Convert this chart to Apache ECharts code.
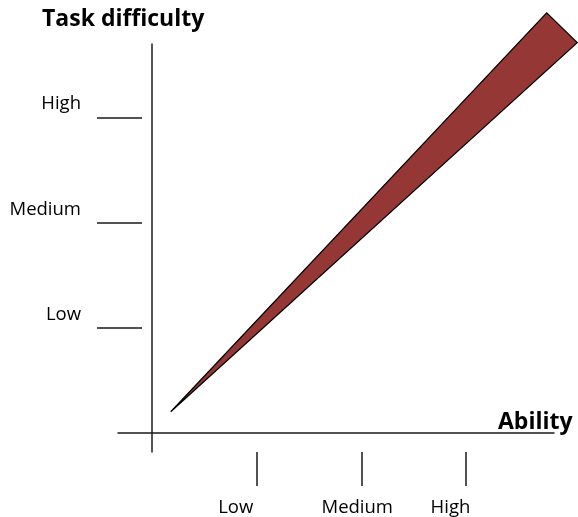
<!DOCTYPE html>
<html>
<head>
<meta charset="utf-8">
<script src="https://cdn.jsdelivr.net/npm/echarts@6/dist/echarts.min.js"></script>
<style>html,body{margin:0;padding:0;background:#fff}#c{width:578px;height:517px}</style>
</head>
<body>
<div id="c"></div>
<script>
// ---- data ----
const xTitle = 'Ability';
const yTitle = 'Task difficulty';
const abilityTicks = [1, 2, 3];
const abilityLabels = ['Low', 'Medium', 'High'];
const abilityLabelPos = [0.80, 1.96, 2.85];
const difficultyTicks = [1, 2, 3];
const difficultyLabels = ['Low', 'Medium', 'High'];
const difficultyLabelPos = [1.12, 2.12, 3.13];
// wedge vertices (ability, difficulty)
const wedgeAbility = [0.179, 3.769, 4.061];
const wedgeDifficulty = [0.198, 4.000, 3.715];

const xRange = [-0.3247, 3.8388];
const yRange = [-0.1854, 3.7025];

function labelFor(posArr, names) {
  return function (v) {
    let best = 0, d = Infinity;
    posArr.forEach((p, i) => { const dd = Math.abs(p - v); if (dd < d) { d = dd; best = i; } });
    return names[best];
  };
}

const FONT = 'Open Sans';
const lineColor = '#1a1a1a';
const chart = echarts.init(document.getElementById('c'), null, {renderer: 'canvas'});
const wedgeData = wedgeAbility.map((x, i) => [x, wedgeDifficulty[i]]);

chart.setOption({
  animation: false,
  backgroundColor: '#ffffff',
  title: [
    {text: yTitle, left: 42, top: 8, padding: 0,
     textStyle: {fontFamily: FONT, fontWeight: 'bold', fontSize: 23, color: '#000'}},
    {text: xTitle, left: 498, top: 411, padding: 0,
     textStyle: {fontFamily: FONT, fontWeight: 'bold', fontSize: 23, color: '#000'}}
  ],
  grid: {left: 118, right: 24, top: 44, bottom: 64, containLabel: false},
  xAxis: [
    {type: 'value', position: 'top', min: xRange[0], max: xRange[1],
     axisLine: {show: true, onZero: true, lineStyle: {color: lineColor, width: 1.5}},
     axisTick: {show: false}, axisLabel: {show: false}, splitLine: {show: false}},
    {type: 'value', position: 'bottom', min: xRange[0], max: xRange[1], offset: 0,
     axisLine: {show: false, onZero: false},
     axisTick: {show: true, inside: false, length: 34, customValues: abilityTicks,
                lineStyle: {color: lineColor, width: 1.5}},
     axisLabel: {show: true, customValues: abilityLabelPos, margin: 46,
                 formatter: labelFor(abilityLabelPos, abilityLabels),
                 fontFamily: FONT, fontSize: 18.5, color: '#000'},
     splitLine: {show: false}}
  ],
  yAxis: [
    {type: 'value', position: 'right', min: yRange[0], max: yRange[1],
     axisLine: {show: true, onZero: true, lineStyle: {color: lineColor, width: 1.5}},
     axisTick: {show: false}, axisLabel: {show: false}, splitLine: {show: false}},
    {type: 'value', position: 'left', min: yRange[0], max: yRange[1], offset: -24,
     axisLine: {show: false, onZero: false},
     axisTick: {show: true, inside: false, length: 45, customValues: difficultyTicks,
                lineStyle: {color: lineColor, width: 1.5}},
     axisLabel: {show: true, customValues: difficultyLabelPos, margin: 61,
                 formatter: labelFor(difficultyLabelPos, difficultyLabels),
                 fontFamily: FONT, fontSize: 18.5, color: '#000'},
     splitLine: {show: false}}
  ],
  series: [{
    type: 'custom',
    xAxisIndex: 0, yAxisIndex: 0,
    clip: false,
    data: wedgeData,
    renderItem: function (params, api) {
      if (params.dataIndex !== 0) return null;
      const pts = wedgeData.map(p => api.coord(p));
      return {type: 'polygon', shape: {points: pts},
              style: {fill: '#953735', stroke: '#000', lineWidth: 1.2}};
    }
  }]
});
</script>
</body>
</html>
